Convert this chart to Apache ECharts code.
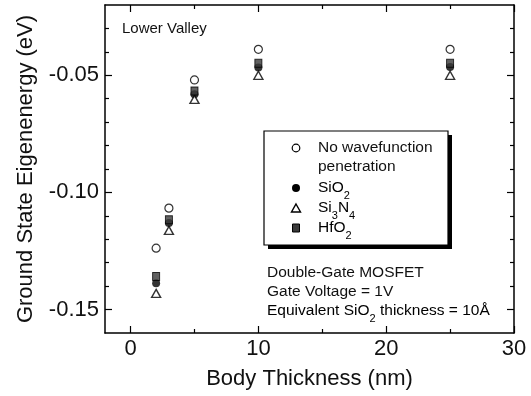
<!DOCTYPE html>
<html>
<head>
<meta charset="utf-8">
<script src="https://cdn.jsdelivr.net/npm/echarts@6/dist/echarts.min.js"></script>
<style>
  html, body { margin: 0; padding: 0; background: #fff; }
  #chart { width: 531px; height: 396px; }
</style>
</head>
<body>
<div id="chart"></div>
<script>
// body thickness (nm)
const thickness = [2, 3, 5, 10, 25];
// ground state eigenenergy (eV)
const noPenetration = [-0.1238, -0.1067, -0.0520, -0.0389, -0.0389];
const sio2 = [-0.1388, -0.1131, -0.0581, -0.0467, -0.0465];
const si3n4 = [-0.1431, -0.1162, -0.0603, -0.0500, -0.0500];
const hfo2 = [-0.1359, -0.1117, -0.0567, -0.0449, -0.0449];

const xTicks = [0, 10, 20, 30];
const xMinorTicks = [5, 15, 25];
const yTicks = [-0.15, -0.10, -0.05];
const yMinorTicks = [-0.14, -0.13, -0.12, -0.11, -0.09, -0.08, -0.07, -0.06, -0.04, -0.03];

const FONT = 'Liberation Sans, Arial, Helvetica, sans-serif';

function pairs(ys) {
  return thickness.map((x, i) => [x, ys[i]]);
}

// one axis for major ticks (+labels), one for minor ticks
function xAxisDef(position, values, len, showLabel, showLine) {
  return {
    type: 'value', position: position, min: -2, max: 30,
    axisLine: { show: showLine, onZero: false, lineStyle: { color: '#000', width: 1.5 } },
    axisTick: { show: true, inside: true, length: len, customValues: values, lineStyle: { color: '#000', width: 1.2 } },
    axisLabel: { show: showLabel, customValues: values, margin: 5, color: '#111', fontSize: 22, fontFamily: FONT },
    splitLine: { show: false }
  };
}
function yAxisDef(position, values, len, showLabel, showLine) {
  return {
    type: 'value', position: position, min: -0.16, max: -0.02,
    axisLine: { show: showLine, onZero: false, lineStyle: { color: '#000', width: 1.5 } },
    axisTick: { show: true, inside: true, length: len, customValues: values, lineStyle: { color: '#000', width: 1.2 } },
    axisLabel: { show: showLabel, customValues: values, margin: 6, color: '#111', fontSize: 22, fontFamily: FONT,
      formatter: (v) => v.toFixed(2) },
    splitLine: { show: false }
  };
}

const xMain = xAxisDef('bottom', xTicks, 7, true, true);
xMain.name = 'Body Thickness (nm)';
xMain.nameLocation = 'middle';
xMain.nameGap = 35;
xMain.nameTextStyle = { fontSize: 22, color: '#111', fontFamily: FONT };

const yMain = yAxisDef('left', yTicks, 7, true, true);
yMain.name = 'Ground State Eigenenergy (eV)';
yMain.nameLocation = 'middle';
yMain.nameGap = 68;
yMain.nameTextStyle = { fontSize: 22, color: '#111', fontFamily: FONT };

const sub = {
  t: { fontSize: 15.5, lineHeight: 18, verticalAlign: 'top', fontFamily: FONT, color: '#111' },
  s: { fontSize: 11, lineHeight: 11, padding: [10, 0, 0, 0], verticalAlign: 'top', fontFamily: FONT, color: '#111' }
};
function label(x, y, text) {
  return { type: 'text', x: x, y: y, z: 110,
    style: { text: text, rich: sub, verticalAlign: 'middle', align: 'left' } };
}

const option = {
  backgroundColor: '#fff',
  animation: false,
  grid: { left: 105, right: 17, top: 5, bottom: 63, outerBoundsMode: 'none' },
  xAxis: [
    xMain,
    xAxisDef('bottom', xMinorTicks, 4, false, false),
    xAxisDef('top', xTicks, 7, false, true),
    xAxisDef('top', xMinorTicks, 4, false, false)
  ],
  yAxis: [
    yMain,
    yAxisDef('left', yMinorTicks, 4, false, false),
    yAxisDef('right', yTicks, 7, false, true),
    yAxisDef('right', yMinorTicks, 4, false, false)
  ],
  series: [
    {
      name: 'No wavefunction penetration', type: 'scatter', symbol: 'circle', symbolSize: 8,
      itemStyle: { color: '#fff', borderColor: '#000', borderWidth: 1.2 },
      data: pairs(noPenetration)
    },
    {
      name: 'SiO2', type: 'scatter', symbol: 'circle', symbolSize: 8,
      itemStyle: { color: '#000' },
      data: pairs(sio2)
    },
    {
      name: 'Si3N4', type: 'scatter', symbol: 'triangle', symbolSize: [9, 8],
      itemStyle: { color: '#fff', borderColor: '#000', borderWidth: 1.4 },
      data: pairs(si3n4)
    },
    {
      name: 'HfO2', type: 'scatter', symbol: 'rect', symbolSize: [7, 8],
      itemStyle: { color: '#3a3a3a', borderColor: '#000', borderWidth: 1 },
      data: pairs(hfo2)
    }
  ],
  graphic: [
    { type: 'text', x: 122, y: 29, z: 110,
      style: { text: 'Lower Valley', font: '15px ' + FONT, fill: '#111', verticalAlign: 'middle' } },
    { type: 'text', x: 267, y: 273, z: 110,
      style: { text: 'Double-Gate MOSFET', font: '15.5px ' + FONT, fill: '#111', verticalAlign: 'middle' } },
    { type: 'text', x: 267, y: 292, z: 110,
      style: { text: 'Gate Voltage = 1V', font: '15.5px ' + FONT, fill: '#111', verticalAlign: 'middle' } },
    label(267, 312, '{t|Equivalent SiO}{s|2}{t| thickness = 10Å}'),

    // legend box with drop shadow
    { type: 'rect', z: 100, shape: { x: 268, y: 135, width: 184, height: 114 }, style: { fill: '#000' } },
    { type: 'rect', z: 101, shape: { x: 264, y: 131, width: 184, height: 114 },
      style: { fill: '#fff', stroke: '#000', lineWidth: 1.2 } },
    { type: 'circle', z: 105, shape: { cx: 296, cy: 148, r: 3.8 }, style: { fill: '#fff', stroke: '#000', lineWidth: 1.2 } },
    { type: 'circle', z: 105, shape: { cx: 296, cy: 188, r: 4 }, style: { fill: '#000' } },
    { type: 'polygon', z: 105, shape: { points: [[296, 204], [300.5, 212], [291.5, 212]] },
      style: { fill: '#fff', stroke: '#000', lineWidth: 1.4 } },
    { type: 'rect', z: 105, shape: { x: 292.5, y: 224, width: 7, height: 8 },
      style: { fill: '#3a3a3a', stroke: '#000', lineWidth: 1 } },
    { type: 'text', x: 318, y: 148, z: 110,
      style: { text: 'No wavefunction', font: '15.5px ' + FONT, fill: '#111', verticalAlign: 'middle' } },
    { type: 'text', x: 318, y: 167, z: 110,
      style: { text: 'penetration', font: '15.5px ' + FONT, fill: '#111', verticalAlign: 'middle' } },
    label(318, 189, '{t|SiO}{s|2}'),
    label(318, 209, '{t|Si}{s|3}{t|N}{s|4}'),
    label(318, 229, '{t|HfO}{s|2}')
  ]
};

const myChart = echarts.init(document.getElementById('chart'));
myChart.setOption(option);
</script>
</body>
</html>
